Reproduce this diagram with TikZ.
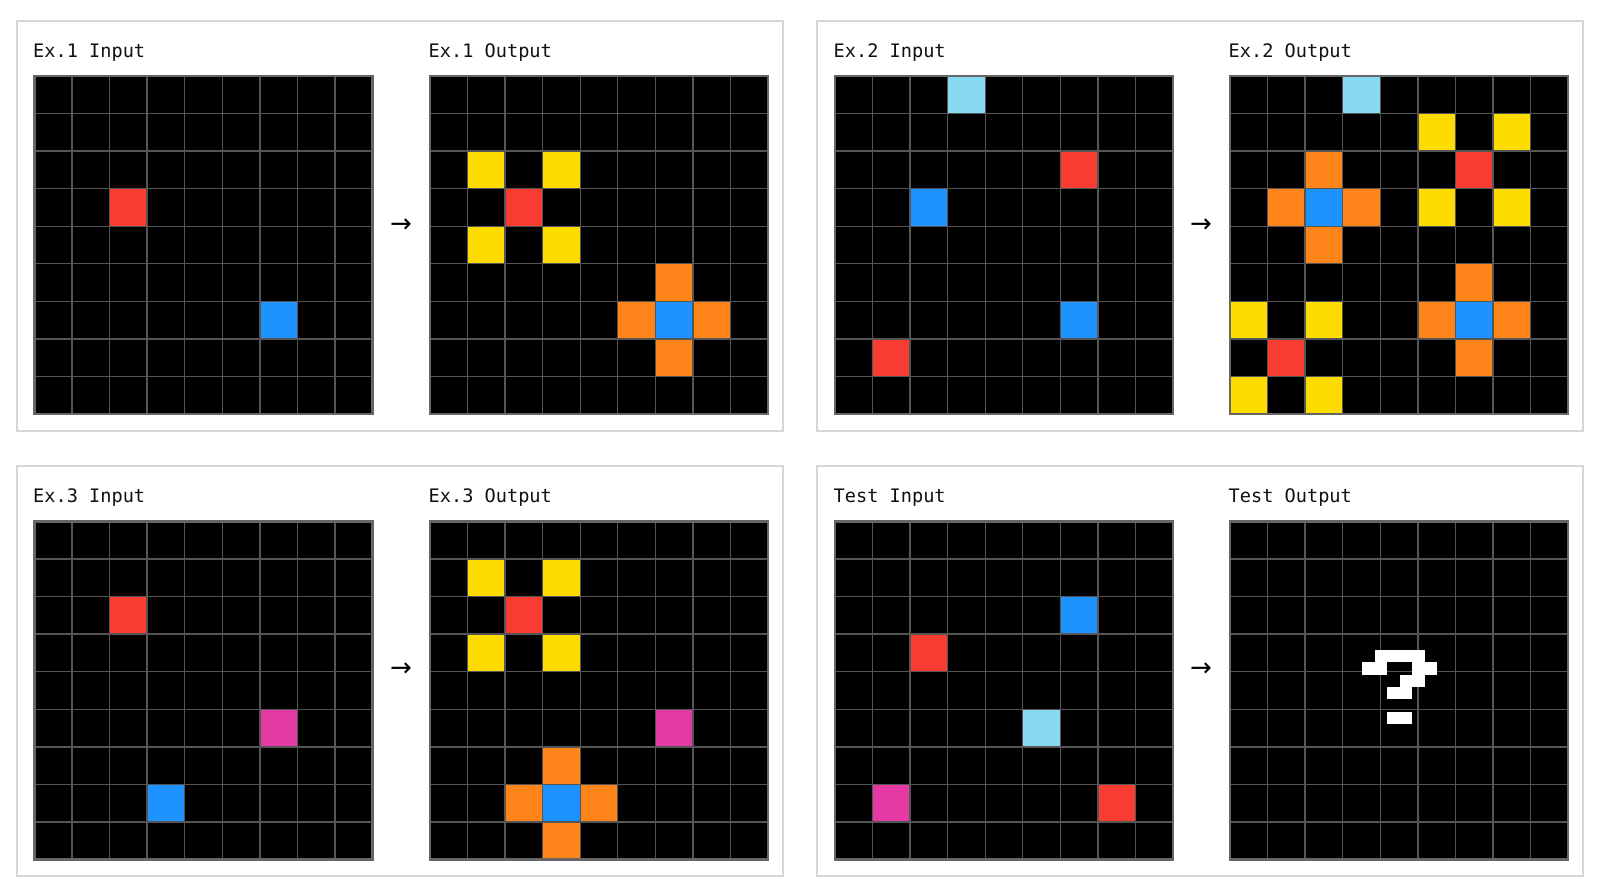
\documentclass[tikz,border=0pt]{standalone}
\usepackage{fontspec}
\newfontfamily\monof{DejaVu Sans Mono}
\newfontfamily\arrowf{DejaVu Sans}
\definecolor{arcred}{HTML}{F93C31}
\definecolor{arcblue}{HTML}{1E93FF}
\definecolor{arcyellow}{HTML}{FFDC00}
\definecolor{arcorange}{HTML}{FF851B}
\definecolor{arclblue}{HTML}{87D8F1}
\definecolor{arcmag}{HTML}{E53AA3}
\definecolor{gline}{HTML}{555555}
\definecolor{gborder}{HTML}{666666}
\definecolor{pborder}{HTML}{D6D6D6}
\definecolor{txt}{HTML}{111111}
\tikzset{
  panel/.style={draw=pborder,line width=1.3pt,fill=white},
  gridline/.style={draw=gline,line width=1.4pt},
  gridborder/.style={draw=gborder,line width=2.6pt},
  lbl/.style={anchor=base west,inner sep=0pt,text=txt,font=\monof\fontsize{18.6}{22}\selectfont},
  arr/.style={inner sep=0pt,font=\arrowf\fontsize{26}{28}\selectfont},
}
\newcommand\drawgrid[3]{%
  \fill[black] (#1,#2) rectangle ++(338,338);
  \foreach \r/\c/\col in {#3} {
    \fill[\col] ({#1+\c*37.556},{#2+\r*37.556}) rectangle ++(37.556,37.556);
  }
  \foreach \i in {1,...,8} {
    \draw[gridline] ({#1+\i*37.556},#2) -- ++(0,338);
    \draw[gridline] (#1,{#2+\i*37.556}) -- ++(338,0);
  }
  \draw[gridborder] (#1,#2) rectangle ++(338,338);
}
\begin{document}
\begin{tikzpicture}[x=1pt,y=-1pt]
\useasboundingbox[fill=white] (0,0) rectangle (1600,895);
% panels
\draw[panel] (17,21) rectangle (783,431);
\draw[panel] (817,21) rectangle (1583,431);
\draw[panel] (17,466) rectangle (783,876);
\draw[panel] (817,466) rectangle (1583,876);
% labels
\node[lbl] (l1) at (33,57) {Ex.1 Input};
\node[lbl] (l2) at (428.5,57) {Ex.1 Output};
\node[lbl] (l3) at (833.5,57) {Ex.2 Input};
\node[lbl] (l4) at (1228.5,57) {Ex.2 Output};
\node[lbl] (l5) at (33,502.5) {Ex.3 Input};
\node[lbl] (l6) at (428.5,502.5) {Ex.3 Output};
\node[lbl] (l7) at (833.5,502.5) {Test Input};
\node[lbl] (l8) at (1228.5,502.5) {Test Output};
% arrows
\node[arr] (a1) at (401,226) {→};
\node[arr] (a2) at (1201,226) {→};
\node[arr] (a3) at (401,670) {→};
\node[arr] (a4) at (1201,670) {→};
% Ex.1
\drawgrid{34.5}{76}{3/2/arcred,6/6/arcblue}
\drawgrid{430}{76}{2/1/arcyellow,2/3/arcyellow,4/1/arcyellow,4/3/arcyellow,3/2/arcred,
  5/6/arcorange,6/5/arcorange,6/7/arcorange,7/6/arcorange,6/6/arcblue}
% Ex.2
\drawgrid{835}{76}{0/3/arclblue,2/6/arcred,3/2/arcblue,6/6/arcblue,7/1/arcred}
\drawgrid{1230}{76}{0/3/arclblue,
  1/5/arcyellow,1/7/arcyellow,3/5/arcyellow,3/7/arcyellow,2/6/arcred,
  2/2/arcorange,4/2/arcorange,3/1/arcorange,3/3/arcorange,3/2/arcblue,
  5/6/arcorange,7/6/arcorange,6/5/arcorange,6/7/arcorange,6/6/arcblue,
  6/0/arcyellow,6/2/arcyellow,8/0/arcyellow,8/2/arcyellow,7/1/arcred}
% Ex.3
\drawgrid{34.5}{521.5}{2/2/arcred,5/6/arcmag,7/3/arcblue}
\drawgrid{430}{521.5}{1/1/arcyellow,1/3/arcyellow,3/1/arcyellow,3/3/arcyellow,2/2/arcred,
  5/6/arcmag,
  6/3/arcorange,7/2/arcorange,7/4/arcorange,8/3/arcorange,7/3/arcblue}
% Test
\drawgrid{835}{521.5}{2/6/arcblue,3/2/arcred,5/5/arclblue,7/1/arcmag,7/7/arcred}
\drawgrid{1230}{521.5}{0/0/black}
% question mark
\fill[white] (1374.8,650) rectangle (1424.8,662.3);
\fill[white] (1362.3,662.3) rectangle (1387.3,674.5);
\fill[white] (1412.3,662.3) rectangle (1437.3,674.5);
\fill[white] (1399.8,674.5) rectangle (1424.8,686.7);
\fill[white] (1387.3,686.7) rectangle (1412.3,699);
\fill[white] (1387.3,711.8) rectangle (1412.3,724);
\end{tikzpicture}
\end{document}
